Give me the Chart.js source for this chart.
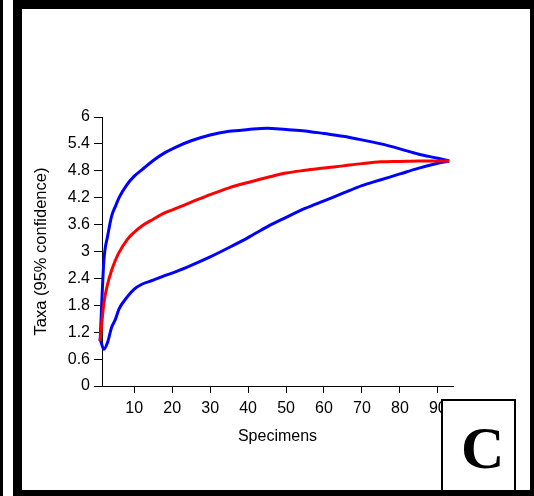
<!DOCTYPE html>
<html>
<head>
<meta charset="utf-8">
<title>Taxa</title>
<script src="https://cdn.jsdelivr.net/npm/chart.js@4.4.0/dist/chart.umd.min.js"></script>
<style>
    body { margin: 0; background: #fff; }
    #wrap { position: relative; width: 534px; height: 496px; overflow: hidden; }
    #chart { position: absolute; left: 0; top: 0; }
    #leftBar { position: absolute; left: 0; top: 0; width: 3px; height: 496px; background: #000; }
    #frame { position: absolute; left: 13px; top: 0; width: 526px; height: 499px; border: 9px solid #000; box-sizing: border-box; }
    #boxC { position: absolute; left: 441px; top: 399px; width: 75px; height: 100px; border: 2px solid #000; box-sizing: border-box; background: #fff; }
    #letterC { position: absolute; left: 461px; top: 418px; font: bold 60px "Liberation Serif", "Times New Roman", serif; line-height: 60px; color: #000; }
</style>
</head>
<body>
<div id="wrap">
    <canvas id="chart" width="534" height="496"></canvas>
    <div id="boxC"></div>
    <span id="letterC">C</span>
    <div id="leftBar"></div>
    <div id="frame"></div>
</div>
<script>
/*
 * Valores (rarefacao, 95% de confianca)
 * */
var specimens = [1, 2, 3, 4, 5, 6, 8, 10, 12, 15, 18, 21, 25, 30, 35, 40, 45, 50, 55, 60, 65, 70, 75, 80, 85, 90, 93];
var upper = [1.0, 2.8, 3.35, 3.78, 4.0, 4.2, 4.48, 4.68, 4.82, 5.03, 5.2, 5.33, 5.47, 5.6, 5.68, 5.72, 5.75, 5.72, 5.69, 5.63, 5.57, 5.49, 5.4, 5.29, 5.17, 5.08, 5.02];
var taxa = [1.0, 1.85, 2.28, 2.57, 2.8, 2.98, 3.25, 3.43, 3.57, 3.72, 3.86, 3.96, 4.1, 4.27, 4.42, 4.54, 4.65, 4.75, 4.81, 4.86, 4.91, 4.96, 5.0, 5.01, 5.02, 5.02, 5.02];
var lower = [1.05, 0.82, 0.98, 1.3, 1.48, 1.72, 1.97, 2.16, 2.27, 2.36, 2.46, 2.55, 2.69, 2.88, 3.09, 3.31, 3.55, 3.76, 3.96, 4.13, 4.3, 4.47, 4.6, 4.73, 4.86, 4.97, 5.02];

var xTicks = [10, 20, 30, 40, 50, 60, 70, 80, 90];
var yTicks = [0, 0.6, 1.2, 1.8, 2.4, 3, 3.6, 4.2, 4.8, 5.4, 6];
var yTickLabels = ['0', '0.6', '1.2', '1.8', '2.4', '3', '3.6', '4.2', '4.8', '5.4', '6'];

function toPoints(xs, ys){
    var pts = [];
    for(var i = 0; i < xs.length; i++){
        pts.push({x: xs[i], y: ys[i]});
    }
    return pts;
}

function makeDataSet(label, values, color){
    return {
        label: label,
        data: toPoints(specimens, values),
        borderColor: color,
        backgroundColor: color,
        borderWidth: 3,
        pointRadius: 0,
        cubicInterpolationMode: 'monotone',
        clip: false
    };
}

var font = { family: "'Liberation Sans', Arial, sans-serif", size: 16 };

var chartData = {
    datasets: [
        makeDataSet('taxa', taxa, '#ff0000'),
        makeDataSet('upper', upper, '#0000ff'),
        makeDataSet('lower', lower, '#0000ff')
    ]
};

var options = {
    responsive: false,
    animation: false,
    devicePixelRatio: 1,
    layout: { padding: { left: 25, right: 81, top: 117, bottom: 50 } },
    plugins: { legend: { display: false }, tooltip: { enabled: false } },
    scales: {
        x: {
            type: 'linear',
            min: 1.5,
            max: 94,
            afterBuildTicks: function(scale){
                scale.ticks = xTicks.map(function(v){ return {value: v}; });
            },
            afterFit: function(scale){ scale.height = 60; },
            grid: { drawOnChartArea: false, drawTicks: true, tickLength: 7, color: '#000' },
            border: { display: true, color: '#000', width: 1 },
            ticks: { color: '#000', font: font, padding: 6, maxRotation: 0 },
            title: { display: true, text: 'Specimens', color: '#000', font: font, padding: { top: 0, bottom: 0 } }
        },
        y: {
            type: 'linear',
            min: 0,
            max: 6,
            afterBuildTicks: function(scale){
                scale.ticks = yTicks.map(function(v){ return {value: v}; });
            },
            afterFit: function(scale){ scale.width = 77; },
            grid: { drawOnChartArea: false, drawTicks: true, tickLength: 8, color: '#000' },
            border: { display: true, color: '#000', width: 1 },
            ticks: {
                color: '#000',
                font: font,
                padding: 4,
                callback: function(value, index){ return yTickLabels[index]; }
            },
            title: { display: true, text: 'Taxa (95% confidence)', color: '#000', font: { family: font.family, size: 16.5 }, padding: { top: 7, bottom: 0 } }
        }
    }
};

function loadChart(chartData, selectorId, options){
    var canvas = document.getElementById(selectorId);
    var ctx = canvas.getContext('2d');
    return new Chart(ctx, { type: 'line', data: chartData, options: options });
}

loadChart(chartData, 'chart', options);
</script>
</body>
</html>
